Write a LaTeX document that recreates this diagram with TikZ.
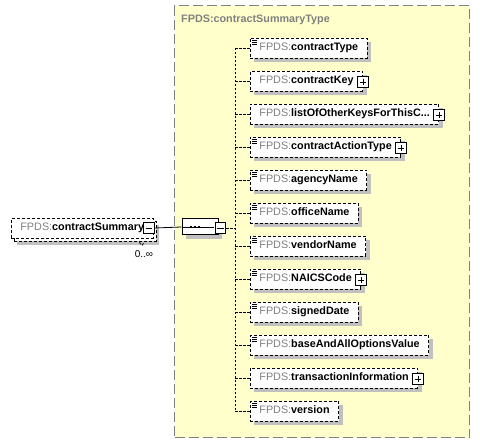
\documentclass[tikz,border=0pt]{standalone}
\usepackage{fontspec}
\setmainfont{Liberation Sans}
\usetikzlibrary{shapes.misc, shadows, positioning}
\definecolor{schemayellow}{RGB}{255,255,204}
\definecolor{framegray}{RGB}{128,128,128}
\definecolor{prefixgray}{RGB}{128,128,128}
\definecolor{shadowgray}{RGB}{192,192,192}
\newcommand{\fpds}[1]{{\color{prefixgray}FPDS:}\textbf{#1}}

\begin{document}
\begin{tikzpicture}[
    % GLOBAL CFG
    x=1pt, y=-1pt,
    font=\fontsize{10.8}{12}\selectfont,
    % Styles
    container/.style={% For the complex type frame
        rectangle,
        draw=framegray,
        fill=schemayellow,
        line width=1.3pt,
        dash pattern=on 10pt off 4pt,
        anchor=north west,
        },
    typetitle/.style={% For the name of the type
        anchor=west,
        inner sep=2pt,
        text=prefixgray,
        font=\fontsize{10.8}{12}\selectfont\bfseries,
        },
    elem/.style={% For element boxes
        rectangle,
        draw,
        fill=white,
        line width=0.8pt,
        dash pattern=on 3pt off 2pt,
        anchor=west,
        minimum height=20pt,
        inner xsep=9pt,
        text height=7.8pt,
        text depth=2.2pt,
        },
    single/.style={% One shadow behind the box
        general shadow={fill=shadowgray, shadow xshift=4pt, shadow yshift=-4pt},
        },
    multi/.style={% Stacked boxes for 0..unbounded
        general shadow={fill=shadowgray, shadow xshift=6pt, shadow yshift=-7pt},
        general shadow={fill=white, draw=black, line width=0.8pt, dash pattern=on 3pt off 2pt, shadow xshift=3pt, shadow yshift=-3pt},
        },
    simple/.style={% Little icon for simple content
        path picture={
            \foreach \k in {2,4,6}
                \draw[solid, line width=0.8pt] ([xshift=2pt, yshift=-\k pt]path picture bounding box.north west) -- ++(5pt,0);
            },
        },
    signbox/.style={% For the + and - squares
        rectangle,
        draw,
        fill=white,
        line width=1pt,
        minimum size=10.5pt,
        inner sep=0pt,
        },
    plusbox/.style={%
        signbox,
        path picture={
            \draw[line width=0.8pt] ([xshift=2pt]path picture bounding box.west) -- ([xshift=-2pt]path picture bounding box.east);
            \draw[line width=0.8pt] ([yshift=-2pt]path picture bounding box.north) -- ([yshift=2pt]path picture bounding box.south);
            },
        },
    minusbox/.style={%
        signbox,
        path picture={
            \draw[line width=0.8pt] ([xshift=2pt]path picture bounding box.west) -- ([xshift=-2pt]path picture bounding box.east);
            },
        },
    seqbox/.style={% For the sequence compositor
        chamfered rectangle,
        chamfered rectangle xsep=5pt,
        chamfered rectangle ysep=4pt,
        draw,
        fill=white,
        line width=1pt,
        minimum width=36pt,
        minimum height=16pt,
        inner sep=0pt,
        general shadow={fill=shadowgray, shadow xshift=4pt, shadow yshift=-4pt},
        },
    tree/.style={% Dashed lines of the content model
        line width=0.8pt,
        dash pattern=on 2.5pt off 1.5pt,
        },
    mult/.style={% Occurrence label
        font=\fontsize{10}{11}\selectfont,
        inner sep=0pt,
        },
    ]

\useasboundingbox (0,0) rectangle (480,443);

%Start drawing the thing...
    % Draw the type frame
    \node [container, minimum width=295pt, minimum height=432pt] (stype) at (174,5) {};
    \node [typetitle] (stitle) at (179,20) {FPDS:contractSummaryType};

    % Draw the main element
    \node [elem, multi] (summary) at (11,228) {\fpds{contractSummary}\hspace{7pt}};
    \node [minusbox] (summin) at ([xshift=-4.5pt]summary.east) {};
    \node [mult] (summult) at (144,254) {0..∞};

    % Draw the sequence
    \node [seqbox] (seq) at (200,227) {};
    \node [minusbox] (seqmin) at ([xshift=2pt, yshift=-1pt]seq.east) {};
    \coordinate (spine) at (235,228);

    % Draw child elements
    \node [elem, single, simple] (ctype) at (250,48) {\fpds{contractType}};
    \node [elem, single] (ckey) at (250,81) {\fpds{contractKey}\hspace{3pt}};
    \node [elem, single] (okeys) at (250,114) {\fpds{listOfOtherKeysForThisC...}\hspace{8pt}};
    \node [elem, single, simple] (atype) at (250,147) {\fpds{contractActionType}\hspace{3pt}};
    \node [elem, single, simple] (agency) at (250,180) {\fpds{agencyName}};
    \node [elem, single, simple] (office) at (250,213) {\fpds{officeName}};
    \node [elem, single, simple] (vendor) at (250,246) {\fpds{vendorName}};
    \node [elem, single, simple] (naics) at (250,279) {\fpds{NAICSCode}\hspace{3pt}};
    \node [elem, single, simple] (signed) at (250,312) {\fpds{signedDate}};
    \node [elem, single, simple] (value) at (250,345) {\fpds{baseAndAllOptionsValue}};
    \node [elem, single] (trans) at (250,378) {\fpds{transactionInformation}\hspace{3pt}};
    \node [elem, single, simple] (version) at (250,411) {\fpds{version}};

    % Draw the + squares
    \node [plusbox] (ckeyplus) at ([yshift=-1pt]ckey.east) {};
    \node [plusbox] (okeysplus) at ([yshift=-1pt]okeys.east) {};
    \node [plusbox] (atypeplus) at ([yshift=-1pt]atype.east) {};
    \node [plusbox] (naicsplus) at ([yshift=-1pt]naics.east) {};
    \node [plusbox] (transplus) at ([yshift=-1pt]trans.east) {};

    % Inside the sequence
    \draw [line width=0.8pt] ([xshift=1pt]seq.west) -- ([xshift=-5pt]seq.east);
    \foreach \d in {-9,-5,-1}
        \fill ([xshift=\d pt]seq.center) +(-1.4,-1.4) rectangle +(1.4,1.4);

% Start connecting all.
    \draw [line width=0.8pt] (summin.east) -- (seq.west);
    \draw [tree] (seqmin.east) -- (spine);
    \draw [tree] (spine |- ctype.west) -- (spine |- version.west);
    \draw [tree] ([shift={(-14,4)}]summary.south east) -- ++(2.5,3) -- ++(2.5,-3);

    % Stubs to the children
    \draw [tree] (spine |- ctype.west) -- (ctype.west);
    \draw [tree] (spine |- ckey.west) -- (ckey.west);
    \draw [tree] (spine |- okeys.west) -- (okeys.west);
    \draw [tree] (spine |- atype.west) -- (atype.west);
    \draw [tree] (spine |- agency.west) -- (agency.west);
    \draw [tree] (spine |- office.west) -- (office.west);
    \draw [tree] (spine |- vendor.west) -- (vendor.west);
    \draw [tree] (spine |- naics.west) -- (naics.west);
    \draw [tree] (spine |- signed.west) -- (signed.west);
    \draw [tree] (spine |- value.west) -- (value.west);
    \draw [tree] (spine |- trans.west) -- (trans.west);
    \draw [tree] (spine |- version.west) -- (version.west);

\end{tikzpicture}
\end{document}
